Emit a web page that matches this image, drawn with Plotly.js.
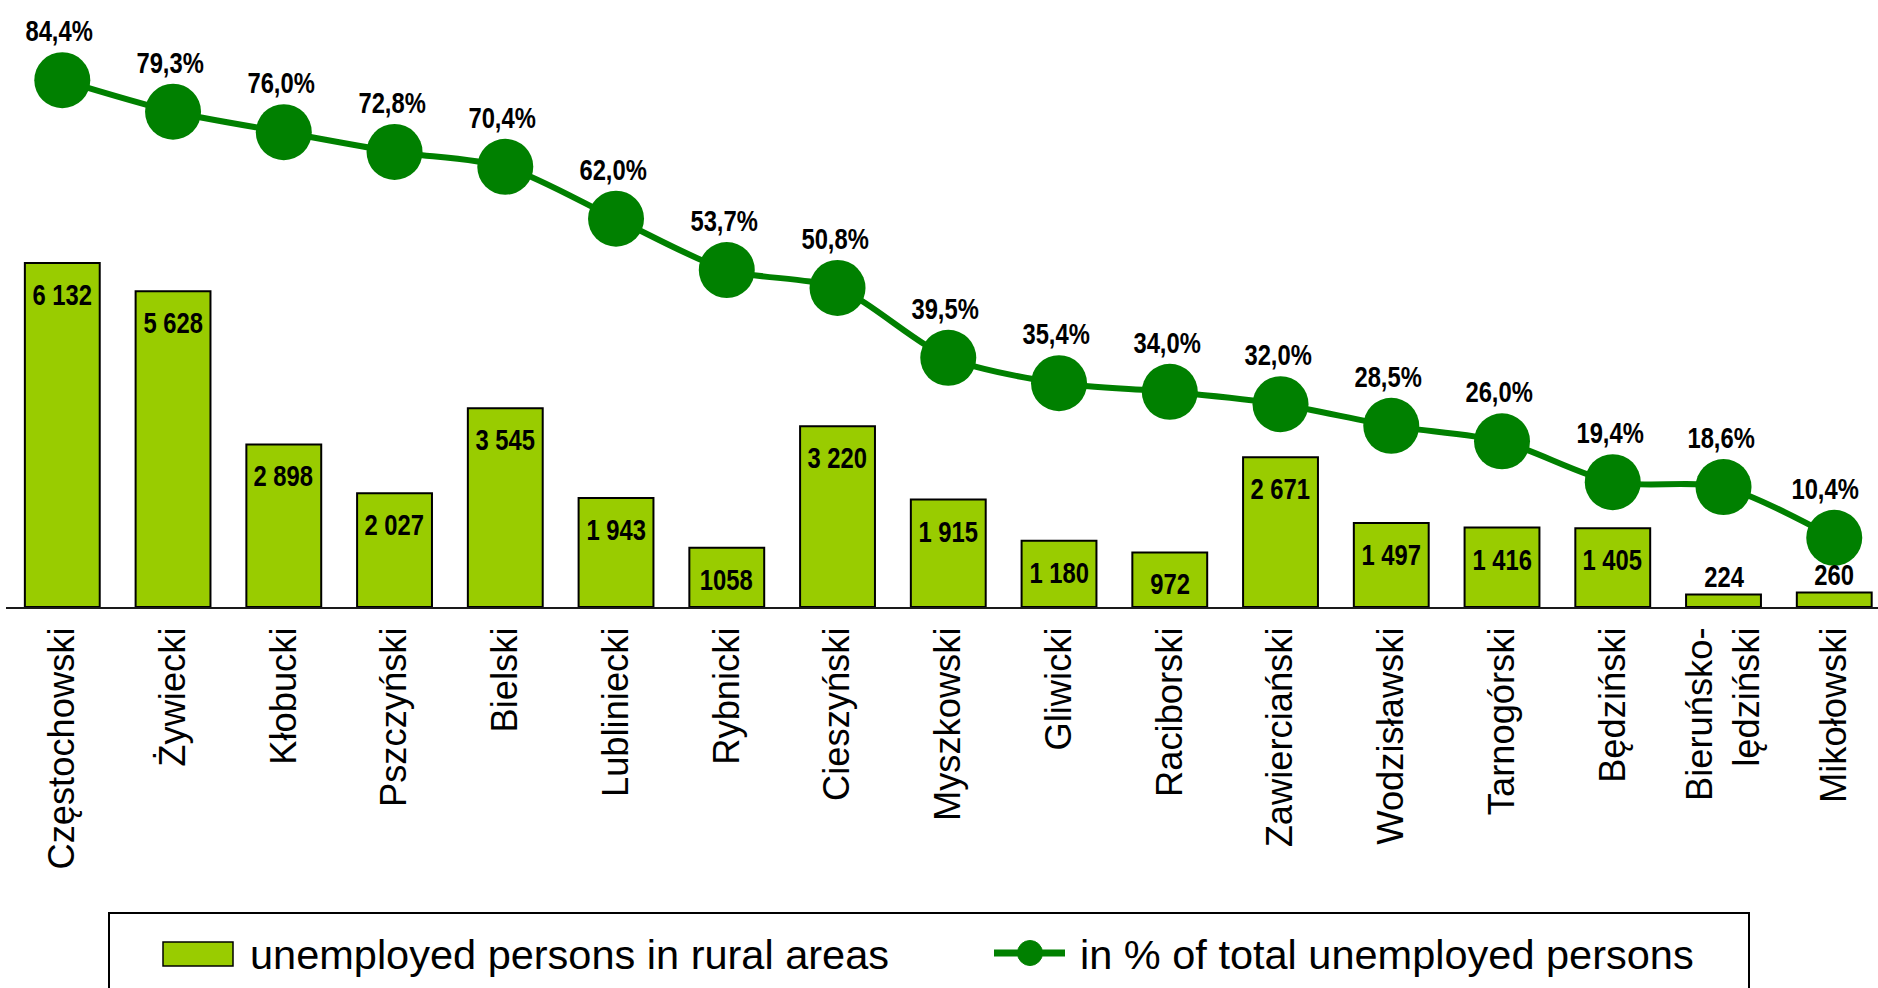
<!DOCTYPE html>
<html>
<head>
<meta charset="utf-8">
<script src="https://cdn.plot.ly/plotly-3.0.1.min.js"></script>
<style>
  html, body { margin: 0; padding: 0; background: #ffffff; }
  #chart { width: 1878px; height: 988px; }
</style>
</head>
<body>
<div id="chart"></div>
<script>
// ---- data ----
const categories = ["Częstochowski", "Żywiecki", "Kłobucki", "Pszczyński", "Bielski", "Lubliniecki",
  "Rybnicki", "Cieszyński", "Myszkowski", "Gliwicki", "Raciborski", "Zawierciański",
  "Wodzisławski", "Tarnogórski", "Będziński", "Bieruńsko-lędziński", "Mikołowski"];
const tickLabels = ["Częstochowski", "Żywiecki", "Kłobucki", "Pszczyński", "Bielski", "Lubliniecki",
  "Rybnicki", "Cieszyński", "Myszkowski", "Gliwicki", "Raciborski", "Zawierciański",
  "Wodzisławski", "Tarnogórski", "Będziński", "Bieruńsko-<br>lędziński", "Mikołowski"];
const ruralUnemployed = [6132, 5628, 2898, 2027, 3545, 1943, 1058, 3220, 1915, 1180, 972, 2671, 1497, 1416, 1405, 224, 260];
const ruralLabels = ["6 132", "5 628", "2 898", "2 027", "3 545", "1 943", "1058", "3 220", "1 915", "1 180", "972", "2 671", "1 497", "1 416", "1 405", "224", "260"];
const shareOfTotal = [84.4, 79.3, 76.0, 72.8, 70.4, 62.0, 53.7, 50.8, 39.5, 35.4, 34.0, 32.0, 28.5, 26.0, 19.4, 18.6, 10.4];
const seriesNames = ["unemployed persons in rural areas", "in % of total unemployed persons"];

// ---- style ----
const W = 1878, H = 988;
const M = { l: 6, r: 0, t: 46, b: 381 };
const plotW = W - M.l - M.r, plotH = H - M.t - M.b;
const px = x => (x - M.l) / plotW;          // pixel -> paper x
const py = y => (H - M.b - y) / plotH;      // pixel -> paper y
const BAR_GREEN = "#99CC00", LINE_GREEN = "#008000";
const NARROW = 0.82; // horizontal compression to emulate a narrow bold face
const boldFont = { family: "Liberation Sans, Arial, sans-serif", size: 29, color: "#000", weight: 700 };
const regFont = "Liberation Sans, Arial, sans-serif";
const XRANGE = [-0.5083, 16.395];

const bars = {
  type: "bar", x: categories, y: ruralUnemployed, name: seriesNames[0],
  width: 0.676,
  marker: { color: BAR_GREEN, line: { color: "#000", width: 2 } },
  hoverinfo: "skip"
};
const line = {
  type: "scatter", mode: "lines+markers", x: categories, y: shareOfTotal, yaxis: "y2", name: seriesNames[1],
  line: { color: LINE_GREEN, width: 6, shape: "spline", smoothing: 0.8 },
  marker: { color: LINE_GREEN, size: 56 },
  cliponaxis: false, hoverinfo: "skip"
};

const annotations = [];
const catPx = i => M.l + (i - XRANGE[0]) / (XRANGE[1] - XRANGE[0]) * plotW;
categories.forEach((c, i) => {
  const v = ruralUnemployed[i];
  const inside = v > 500;
  annotations.push({
    x: c, y: v, xref: "x", yref: "y", text: ruralLabels[i], showarrow: false,
    xanchor: "center", yanchor: "middle", yshift: inside ? -32 : 17, font: boldFont
  });
  const pctText = shareOfTotal[i].toFixed(1).replace(".", ",") + "%";
  // keep the label inside the picture (conservative half-width estimate)
  const halfW = pctText.length * 0.7 * boldFont.size / 2;
  let xs = -3;
  const overflow = catPx(i) + xs + halfW - (W - 2);
  if (overflow > 0) xs -= overflow;
  annotations.push({
    x: c, y: shareOfTotal[i], xref: "x", yref: "y2",
    text: pctText, showarrow: false,
    xanchor: "center", yanchor: "middle", yshift: 49, xshift: xs, font: boldFont
  });
});
// custom legend texts
annotations.push({ xref: "paper", yref: "paper", x: px(248), y: py(954), xanchor: "left", yanchor: "middle",
  text: seriesNames[0], showarrow: false, font: { family: regFont, size: 41.5, color: "#000" } });
annotations.push({ xref: "paper", yref: "paper", x: px(1078), y: py(954), xanchor: "left", yanchor: "middle",
  text: seriesNames[1], showarrow: false, font: { family: regFont, size: 41.5, color: "#000" } });

const shapes = [
  { type: "rect", xref: "paper", yref: "paper", x0: px(109), x1: px(1749), y0: py(913), y1: py(1010),
    line: { color: "#000", width: 2 }, fillcolor: "rgba(0,0,0,0)" },
  { type: "rect", xref: "paper", yref: "paper", x0: px(163), x1: px(233), y0: py(942), y1: py(966),
    line: { color: "#000", width: 1.5 }, fillcolor: BAR_GREEN },
  { type: "line", xref: "paper", yref: "paper", x0: px(994), x1: px(1065), y0: py(953), y1: py(953),
    line: { color: LINE_GREEN, width: 7 } },
  { type: "circle", xref: "paper", yref: "paper", x0: px(1017.5), x1: px(1042.5), y0: py(940.5), y1: py(965.5),
    line: { color: LINE_GREEN, width: 1 }, fillcolor: LINE_GREEN }
];

const layout = {
  width: W, height: H,
  margin: M,
  paper_bgcolor: "#fff", plot_bgcolor: "#fff",
  showlegend: false,
  xaxis: {
    type: "category", range: XRANGE, fixedrange: true,
    tickvals: categories, ticktext: tickLabels, tickangle: -90,
    ticks: "", ticklabelstandoff: 4,
    tickfont: { family: regFont, size: 36.3, color: "#000" },
    showline: true, linecolor: "#1a1a1a", linewidth: 2, showgrid: false, zeroline: false
  },
  yaxis: { range: [0, 10000], visible: false, showgrid: false, zeroline: false, fixedrange: true },
  yaxis2: { range: [-0.79, 89.93], overlaying: "y", side: "right", visible: false, showgrid: false, zeroline: false, fixedrange: true },
  annotations: annotations,
  shapes: shapes
};

Plotly.newPlot("chart", [bars, line], layout, { displayModeBar: false, staticPlot: true }).then(gd => {
  // compress the bold value labels horizontally (narrow bold look of the original)
  gd.querySelectorAll("text.annotation-text").forEach(t => {
    const fw = t.style.fontWeight || t.getAttribute("font-weight");
    if (String(fw) === "700" || String(fw) === "bold") {
      const len = t.getComputedTextLength();
      const newLen = len * NARROW;
      t.setAttribute("textLength", newLen.toFixed(1));
      t.setAttribute("lengthAdjust", "spacingAndGlyphs");
      const bg = t.parentNode && t.parentNode.querySelector("rect.bg");
      if (bg) {
        const w = parseFloat(bg.getAttribute("width")) || 0;
        const x = parseFloat(bg.getAttribute("x")) || 0;
        const shrink = len - newLen;
        bg.setAttribute("width", Math.max(0, w - shrink).toFixed(1));
        bg.setAttribute("x", (x + shrink / 2).toFixed(1));
      }
    }
  });
});
</script>
</body>
</html>
